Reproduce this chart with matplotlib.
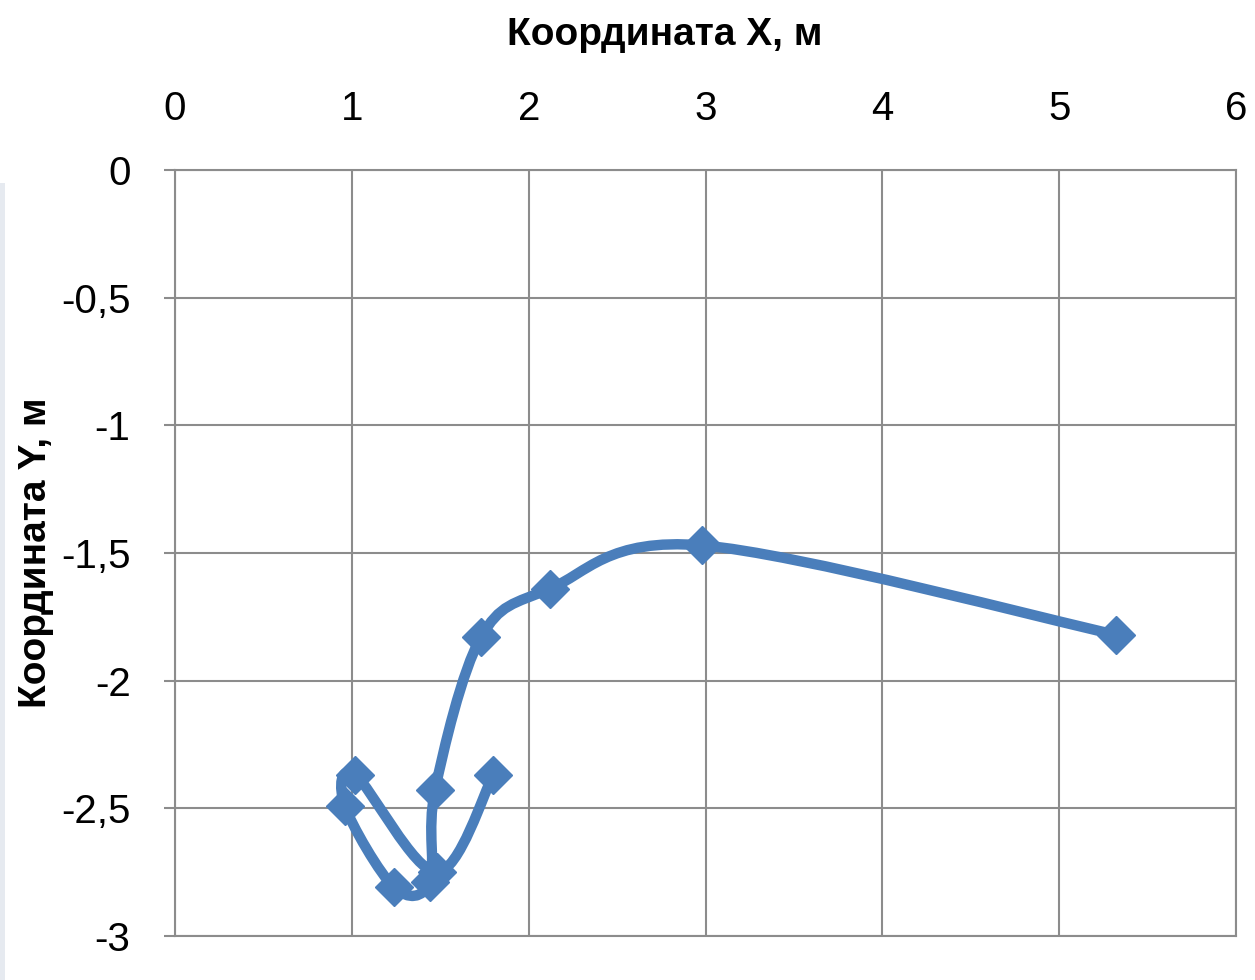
import matplotlib
matplotlib.use("Agg")
import matplotlib.pyplot as plt
from matplotlib.path import Path
from matplotlib.patches import PathPatch, Rectangle

# координаты точек траектории (м)
x_vals = [1.80, 1.48, 1.02, 0.96, 1.24, 1.44, 1.47, 1.73, 2.12, 2.98, 5.32]
y_vals = [-2.37, -2.75, -2.37, -2.49, -2.81, -2.79, -2.43, -1.83, -1.64, -1.47, -1.82]

x_ticks = [0, 1, 2, 3, 4, 5, 6]
y_ticks = [0, -0.5, -1, -1.5, -2, -2.5, -3]
y_tick_labels = ['0', '-0,5', '-1', '-1,5', '-2', '-2,5', '-3']

color = '#4a7ebb'
grid_color = '#8c8c8c'

fig = plt.figure(figsize=(12.55, 9.8), dpi=100)
# светлая полоса у левого края
fig.patches.append(Rectangle((0, 0), 0.004, 0.813, transform=fig.transFigure,
                             facecolor='#e6eaf0', edgecolor='none'))
ax = fig.add_axes([0.1394, 0.0449, 0.8456, 0.7816])

# сглаженная линия как в Excel (кривые Безье через точки)
n = len(x_vals)
verts = [(x_vals[0], y_vals[0])]
codes = [Path.MOVETO]
for i in range(n - 1):
    i0 = max(i - 1, 0)
    i3 = min(i + 2, n - 1)
    c1 = (x_vals[i] + (x_vals[i + 1] - x_vals[i0]) / 6, y_vals[i] + (y_vals[i + 1] - y_vals[i0]) / 6)
    c2 = (x_vals[i + 1] - (x_vals[i3] - x_vals[i]) / 6, y_vals[i + 1] - (y_vals[i3] - y_vals[i]) / 6)
    verts += [c1, c2, (x_vals[i + 1], y_vals[i + 1])]
    codes += [Path.CURVE4] * 3
ax.add_patch(PathPatch(Path(verts, codes), facecolor='none', edgecolor=color,
                       lw=7.5, capstyle='round', joinstyle='round', zorder=3))
ax.plot(x_vals, y_vals, linestyle='none', marker='D', ms=19, color=color, zorder=4)

ax.set_xlim(0, 6)
ax.set_ylim(-3, 0)
ax.xaxis.tick_top()
ax.xaxis.set_label_position('top')
ax.set_xticks(x_ticks)
ax.set_yticks(y_ticks)
ax.set_yticklabels(y_tick_labels)
ax.grid(True, color=grid_color, lw=1.5)
ax.set_axisbelow(True)
for s in ax.spines.values():
    s.set_color(grid_color)
    s.set_linewidth(1.5)
ax.tick_params(axis='x', length=0, pad=30, labelsize=29)
ax.tick_params(axis='y', length=8, width=1.5, color=grid_color, direction='out', pad=24, labelsize=29)
for lab in ax.get_xticklabels() + ax.get_yticklabels():
    lab.set_family(['Liberation Sans', 'DejaVu Sans'])

ax.set_xlabel('Координата X, м', fontsize=28, fontweight='bold', labelpad=33,
              family=['Liberation Sans', 'DejaVu Sans'])
ax.xaxis.label.set_x(0.462)
ax.set_ylabel('Координата Y, м', fontsize=28, fontweight='bold', labelpad=5,
              family=['Liberation Sans', 'DejaVu Sans'])

fig.savefig('out.png', dpi=100)
